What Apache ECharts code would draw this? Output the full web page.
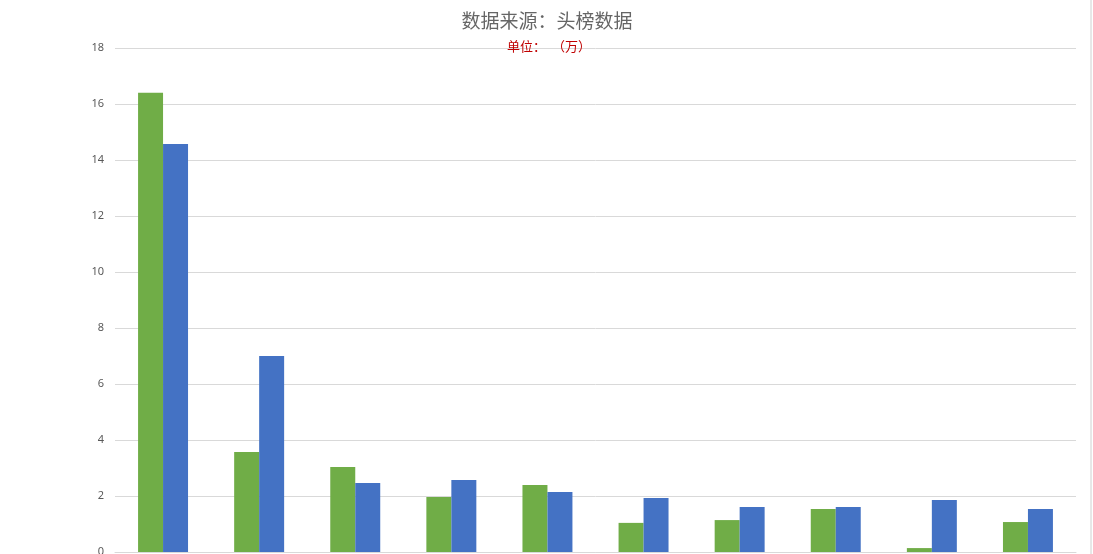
<!DOCTYPE html>
<html>
<head>
<meta charset="utf-8">
<script src="https://cdn.jsdelivr.net/npm/echarts@6/dist/echarts.min.js"></script>
<style>
html,body{margin:0;padding:0;background:#fff;}
#chart{width:1093px;height:554px;}
</style>
</head>
<body>
<div id="chart"></div>
<script>
// data
var categories = ['1', '2', '3', '4', '5', '6', '7', '8', '9', '10'];
var seriesGreen = [16.4, 3.57, 3.04, 1.96, 2.39, 1.04, 1.14, 1.54, 0.14, 1.07];
var seriesBlue = [14.57, 7.0, 2.46, 2.57, 2.14, 1.93, 1.61, 1.61, 1.86, 1.54];
var yTicks = {min: 0, max: 18, interval: 2};

var myChart = echarts.init(document.getElementById('chart'));
var options = {};
options.animation = false;
options.title = [{
    text: '数据来源：头榜数据',
    left: 542,
    top: 6,
    textAlign: 'center',
    textStyle: {fontFamily: 'Noto Sans CJK SC', fontSize: 19, fontWeight: 'normal', color: '#666666'}
}, {
    text: '单位：  （万）',
    left: 544,
    top: 35,
    textAlign: 'center',
    textStyle: {fontFamily: 'Noto Sans CJK SC', fontSize: 13, fontWeight: 'normal', color: '#c00000'}
}];
options.grid = {left: 115, right: 17, top: 48, bottom: 2, containLabel: false, outerBoundsMode: 'none'};
options.xAxis = {
    type: 'category',
    data: categories,
    axisLine: {lineStyle: {color: '#d9d9d9'}},
    axisTick: {show: false},
    axisLabel: {show: false}
};
options.yAxis = {
    type: 'value',
    min: yTicks.min,
    max: yTicks.max,
    interval: yTicks.interval,
    axisLine: {show: false},
    axisTick: {show: false},
    axisLabel: {color: '#595959', fontSize: 11, fontFamily: 'Noto Sans', margin: 11},
    splitLine: {lineStyle: {color: '#d9d9d9'}}
};
options.series = [{
    name: 'A',
    type: 'bar',
    data: seriesGreen,
    barGap: '0%',
    barCategoryGap: '48%',
    itemStyle: {color: '#70ad47'}
}, {
    name: 'B',
    type: 'bar',
    data: seriesBlue,
    itemStyle: {color: '#4472c4'}
}];
// sheet border on the right edge
options.graphic = [{
    type: 'line',
    shape: {x1: 1091, y1: 0, x2: 1091, y2: 554},
    style: {stroke: '#d0d0d0', lineWidth: 1}
}];
myChart.setOption(options);
</script>
</body>
</html>
